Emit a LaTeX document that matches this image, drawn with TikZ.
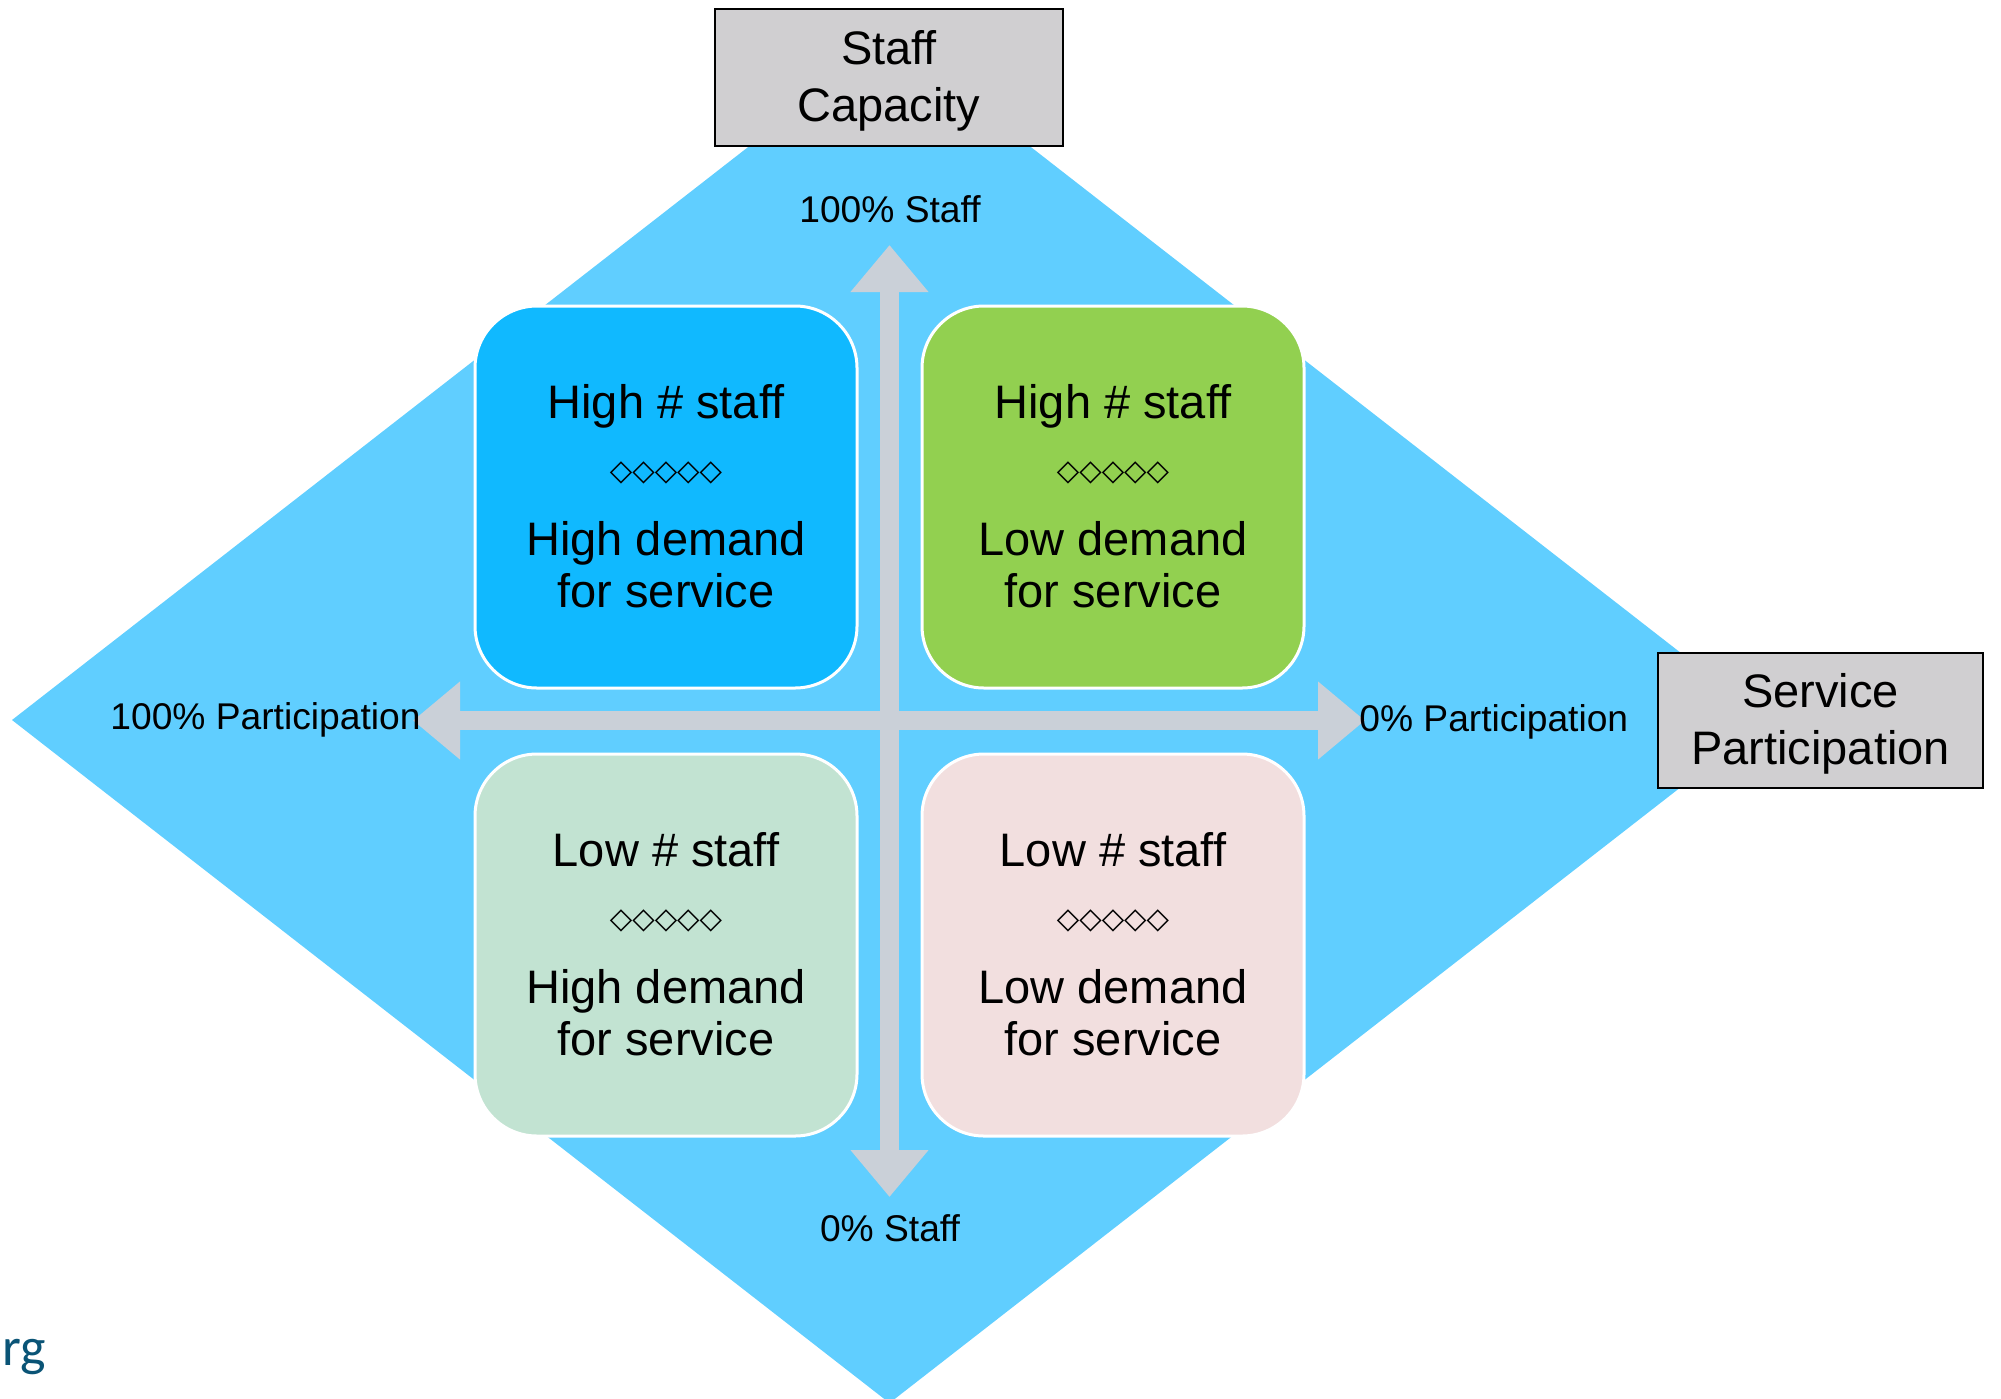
\documentclass[tikz,border=0pt]{standalone}
\usepackage{fontspec}
\setmainfont{Liberation Sans}
\newfontfamily\symfont{DejaVu Sans}
\newfontfamily\rgfont{Carlito}
\usetikzlibrary{arrows.meta}
\definecolor{diamondblue}{RGB}{96,206,255}
\definecolor{qblue}{RGB}{16,185,255}
\definecolor{qgreen}{RGB}{146,208,80}
\definecolor{qmint}{RGB}{194,227,210}
\definecolor{qpink}{RGB}{242,223,223}
\definecolor{arrowgray}{RGB}{202,208,216}
\definecolor{boxgray}{RGB}{208,207,209}
\definecolor{rgblue}{RGB}{10,84,118}
\tikzset{
  quadbox/.style={draw=white, line width=1.5pt, rounded corners=31pt,
    minimum width=191pt, minimum height=191pt, inner sep=0pt, outer sep=0pt},
  graybox/.style={draw=black, line width=1.2pt, fill=boxgray, inner sep=0pt},
  boxtext/.style={inner sep=0pt, align=center, font=\fontsize{23.5}{28.5}\selectfont},
  qtext/.style={anchor=base, inner sep=0pt, align=center, font=\fontsize{23.5}{25.5}\selectfont},
  qsym/.style={anchor=center, inner sep=0pt, font=\symfont\bfseries\fontsize{14.6}{14.6}\selectfont},
  axislabel/.style={inner sep=0pt, font=\fontsize{18.6}{22}\selectfont},
  blockarrow/.style={draw=arrowgray, line width=9.5pt,
    {Triangle[width=37.5pt,length=23.5pt]}-{Triangle[width=37.5pt,length=23.5pt]}}
}
\newcommand{\quadrant}[6]{%
  % #1 name, #2 center x, #3 top y, #4 colour, #5 first line, #6 demand word
  \node[quadbox, fill=#4] (#1) at (#2,#3+191) {};
  \node[qtext] (#1a) at (#2,#3+112) {#5};
  \node[qsym] (#1b) at (#2,#3+167) {◇◇◇◇◇};
  \node[qtext] (#1c) at (#2,#3+249) {#6 demand};
  \node[qtext] (#1d) at (#2,#3+301) {for service};
}
\begin{document}
\begin{tikzpicture}[x=0.5pt,y=-0.5pt]
\useasboundingbox (0,0) rectangle (2001,1398);
% background diamond
\fill[diamondblue] (12,720) -- (889.5,37) -- (1767,720) -- (889.5,1403) -- cycle;
% quadrants
\quadrant{tl}{666}{306}{qblue}{High \# staff}{High}
\quadrant{tr}{1113}{306}{qgreen}{High \# staff}{Low}
\quadrant{bl}{666}{754}{qmint}{Low \# staff}{High}
\quadrant{br}{1113}{754}{qpink}{Low \# staff}{Low}
% axis arrows
\coordinate (vtop) at (889.5,245);
\coordinate (vbot) at (889.5,1197);
\coordinate (hleft) at (413,720.5);
\coordinate (hright) at (1365,720.5);
\draw[blockarrow] (vtop) -- (vbot);
\draw[blockarrow] (hleft) -- (hright);
% axis labels
\node[axislabel, anchor=base] (topl) at (890,222) {100\% Staff};
\node[axislabel, anchor=base] (botl) at (890,1241) {0\% Staff};
\node[axislabel, anchor=base east] (leftl) at (421,729) {100\% Participation};
\node[axislabel, anchor=base west] (rightl) at (1359,731) {0\% Participation};
% title boxes
\node[graybox, minimum width=174pt, minimum height=68.5pt] (staffbox) at (889,77.5) {};
\node[boxtext] (stafftext) at (889,81) {Staff\\Capacity};
\node[graybox, minimum width=162.5pt, minimum height=67.5pt] (servbox) at (1820.5,720.5) {};
\node[boxtext] (servtext) at (1820.5,724) {Service\\Participation};
% cut-off footer text
\node[anchor=base west, inner sep=0pt, text=rgblue, font=\rgfont\fontsize{27}{27}\selectfont] (rg) at (2,1365) {rg};
\end{tikzpicture}
\end{document}
